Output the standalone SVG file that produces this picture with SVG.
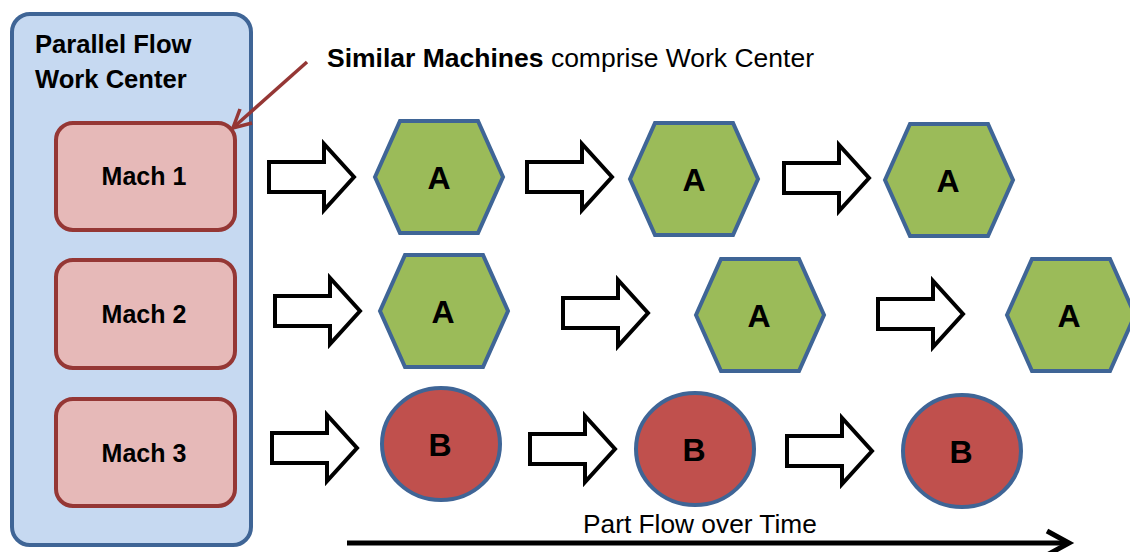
<svg xmlns="http://www.w3.org/2000/svg" xmlns:xlink="http://www.w3.org/1999/xlink" width="1130" height="552" viewBox="0 0 1130 552">
  <style>
    .txt { font-family: "Liberation Sans", Arial, sans-serif; fill: #000; }
    .title { font-size: 25.6px; font-weight: bold; }
    .mach-box { fill: #E6B9B8; stroke: #953735; stroke-width: 4; }
    .mach-lbl { font-size: 25px; font-weight: bold; text-anchor: middle; }
    .hex { fill: #9BBB59; stroke: #3F6596; stroke-width: 4; stroke-linejoin: miter; }
    .disc { fill: #C0504D; stroke: #3F6596; stroke-width: 4; }
    .part-lbl { font-size: 32px; font-weight: bold; text-anchor: middle; }
    .flow { fill: #fff; stroke: #000; stroke-width: 4; stroke-linejoin: miter; }
  </style>
  <defs>
    <!-- hollow block arrow, origin at shaft's left end, centred vertically -->
    <path id="blockArrow" class="flow" d="M0,-15 H55 V-33 L85,0 L55,33 V15 H0 Z"/>
    <!-- part A outline -->
    <polygon id="hexShape" class="hex" points="-64,0 -39,-56 39,-56 64,0 39,56 -39,56"/>
  </defs>

  <!-- work center container -->
  <g id="work-center">
    <rect x="12" y="14" width="239" height="531" rx="18" ry="18" fill="#C6D9F1" stroke="#3F6596" stroke-width="4"/>
    <text class="txt title" x="35" y="53">Parallel Flow</text>
    <text class="txt title" x="35" y="88">Work Center</text>
  </g>

  <g id="mach-1">
    <rect class="mach-box" x="56" y="123" width="179" height="107" rx="17" ry="17"/>
    <text class="txt mach-lbl" x="144" y="185">Mach 1</text>
  </g>
  <g id="mach-2">
    <rect class="mach-box" x="56" y="260" width="179" height="108" rx="17" ry="17"/>
    <text class="txt mach-lbl" x="144" y="323">Mach 2</text>
  </g>
  <g id="mach-3">
    <rect class="mach-box" x="56" y="399" width="179" height="107" rx="17" ry="17"/>
    <text class="txt mach-lbl" x="144" y="462">Mach 3</text>
  </g>

  <!-- callout -->
  <g id="callout">
    <text class="txt" x="327" y="67" font-size="26.5"><tspan font-weight="bold">Similar Machines</tspan> comprise Work Center</text>
  </g>

  <!-- parts: row 1 (Mach 1) -->
  <g id="part-r1-1"><use xlink:href="#hexShape" x="439" y="177"/><text class="txt part-lbl" x="439" y="189">A</text></g>
  <g id="part-r1-2"><use xlink:href="#hexShape" x="694" y="179"/><text class="txt part-lbl" x="694" y="191">A</text></g>
  <g id="part-r1-3"><use xlink:href="#hexShape" x="949" y="180"/><text class="txt part-lbl" x="948" y="192">A</text></g>

  <!-- parts: row 2 (Mach 2) -->
  <g id="part-r2-1"><use xlink:href="#hexShape" x="444" y="311"/><text class="txt part-lbl" x="443" y="323">A</text></g>
  <g id="part-r2-2"><use xlink:href="#hexShape" x="760" y="315"/><text class="txt part-lbl" x="759" y="327">A</text></g>
  <g id="part-r2-3"><use xlink:href="#hexShape" x="1071" y="315"/><text class="txt part-lbl" x="1069" y="327">A</text></g>

  <!-- parts: row 3 (Mach 3) -->
  <g id="part-r3-1"><ellipse class="disc" cx="441" cy="444" rx="59" ry="56"/><text class="txt part-lbl" x="440" y="456">B</text></g>
  <g id="part-r3-2"><ellipse class="disc" cx="695" cy="449" rx="59" ry="56"/><text class="txt part-lbl" x="694" y="461">B</text></g>
  <g id="part-r3-3"><ellipse class="disc" cx="962" cy="451" rx="59" ry="56"/><text class="txt part-lbl" x="961" y="463">B</text></g>

  <!-- connectors -->
  <g id="connectors">
    <!-- callout pointer -->
    <line x1="307" y1="62" x2="235" y2="126" stroke="#953735" stroke-width="3.5"/>
    <polyline points="252,123 233,128 240,109" fill="none" stroke="#953735" stroke-width="3.5" stroke-linejoin="miter"/>

    <use xlink:href="#blockArrow" x="269" y="177"/>
    <use xlink:href="#blockArrow" x="527" y="177"/>
    <use xlink:href="#blockArrow" x="784" y="178"/>

    <use xlink:href="#blockArrow" x="275" y="311"/>
    <use xlink:href="#blockArrow" x="563" y="313"/>
    <use xlink:href="#blockArrow" x="878" y="314"/>

    <use xlink:href="#blockArrow" x="272" y="448"/>
    <use xlink:href="#blockArrow" x="530" y="449"/>
    <use xlink:href="#blockArrow" x="787" y="451"/>

    <!-- time axis -->
    <line x1="347" y1="543" x2="1066" y2="543" stroke="#000" stroke-width="5"/>
    <polyline points="1047,531 1069,543 1047,555" fill="none" stroke="#000" stroke-width="5" stroke-linejoin="miter"/>
  </g>

  <g id="time-label">
    <text class="txt" x="583" y="533" font-size="26.3">Part Flow over Time</text>
  </g>
</svg>
